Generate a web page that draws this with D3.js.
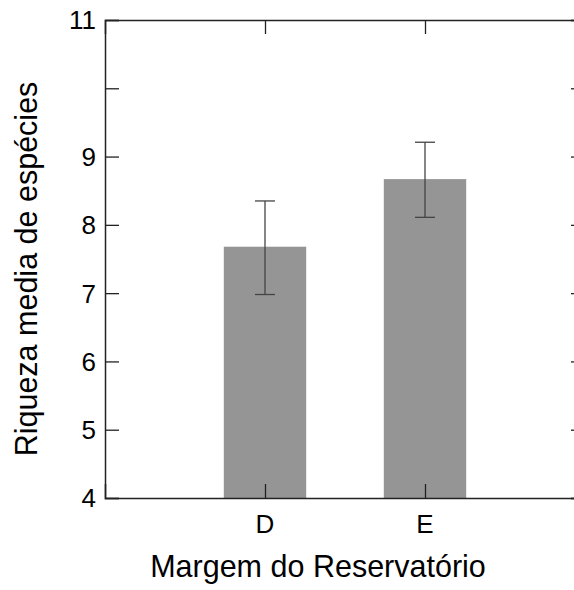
<!DOCTYPE html>
<html>
<head>
<meta charset="utf-8">
<script src="https://cdn.jsdelivr.net/npm/d3@7"></script>
<style>
  body { margin: 0; background: #fff; }
  svg { display: block; font-family: "Liberation Sans", Arial, sans-serif; }
</style>
</head>
<body>
<svg class="chart" width="574" height="590"></svg>
<script>
var categories = ['D', 'E'];
var means = [7.68, 8.67];
var errLow = [6.98, 8.11];
var errHigh = [8.35, 9.21];
var yTicks = [4, 5, 6, 7, 8, 9, 10, 11];
var yTickLabels = ['4', '5', '6', '7', '8', '9', '', '11'];

(function() {
  var svg = d3.select('.chart');
  var left = 105, right = 585, top = 20, bottom = 498;

  var x = d3.scaleLinear().domain([0, 3]).range([left, right]);
  var y = d3.scaleLinear().domain([4, 11]).range([bottom, top]);
  var barW = x(0.515) - x(0);

  // bars
  svg.selectAll('rect.bar')
    .data(categories)
    .enter().append('rect')
      .attr('class', 'bar')
      .attr('x', function(d, i) { return x(i + 1) - barW / 2; })
      .attr('y', function(d, i) { return y(means[i]); })
      .attr('width', barW)
      .attr('height', function(d, i) { return y(4) - y(means[i]); })
      .attr('fill', '#959595');

  // error bars
  var err = svg.selectAll('g.err')
    .data(categories)
    .enter().append('g')
      .attr('class', 'err')
      .attr('stroke', '#444')
      .attr('stroke-width', 1.3);
  err.append('line')
    .attr('x1', function(d, i) { return x(i + 1); })
    .attr('x2', function(d, i) { return x(i + 1); })
    .attr('y1', function(d, i) { return y(errLow[i]); })
    .attr('y2', function(d, i) { return y(errHigh[i]); });
  [errLow, errHigh].forEach(function(arr) {
    err.append('line')
      .attr('x1', function(d, i) { return x(i + 1) - 10; })
      .attr('x2', function(d, i) { return x(i + 1) + 10; })
      .attr('y1', function(d, i) { return y(arr[i]); })
      .attr('y2', function(d, i) { return y(arr[i]); });
  });

  // axes (ticks point inward)
  var tickLen = 14;
  var axisLeft = d3.axisRight(y).tickValues(yTicks).tickSize(tickLen).tickFormat('');
  var axisRight = d3.axisLeft(y).tickValues(yTicks).tickSize(tickLen).tickFormat('');
  var axisBottom = d3.axisTop(x).tickValues([1, 2]).tickSize(tickLen).tickFormat('');
  var axisTop = d3.axisBottom(x).tickValues([1, 2]).tickSize(tickLen).tickFormat('');

  svg.append('g').attr('transform', 'translate(' + left + ',0)').call(axisLeft);
  svg.append('g').attr('transform', 'translate(' + right + ',0)').call(axisRight);
  svg.append('g').attr('transform', 'translate(0,' + bottom + ')').call(axisBottom);
  svg.append('g').attr('transform', 'translate(0,' + top + ')').call(axisTop);
  svg.selectAll('.domain').attr('stroke', '#222').attr('stroke-width', 1.5);
  svg.selectAll('.tick line').attr('stroke', '#222').attr('stroke-width', 1.3);

  // tick labels
  svg.selectAll('text.ylab')
    .data(yTicks)
    .enter().append('text')
      .attr('class', 'ylab')
      .attr('x', left - 9)
      .attr('y', function(d) { return y(d); })
      .attr('dy', '0.36em')
      .attr('text-anchor', 'end')
      .attr('font-size', 26)
      .text(function(d, i) { return yTickLabels[i]; });

  svg.selectAll('text.xlab')
    .data(categories)
    .enter().append('text')
      .attr('class', 'xlab')
      .attr('x', function(d, i) { return x(i + 1); })
      .attr('y', 533)
      .attr('text-anchor', 'middle')
      .attr('font-size', 26)
      .text(function(d) { return d; });

  svg.append('text')
    .attr('x', 318)
    .attr('y', 577)
    .attr('text-anchor', 'middle')
    .attr('font-size', 30.5)
    .text('Margem do Reservatório');

  svg.append('text')
    .attr('transform', 'translate(37,269) rotate(-90)')
    .attr('text-anchor', 'middle')
    .attr('font-size', 30.5)
    .text('Riqueza media de espécies');
})();
</script>
</body>
</html>
